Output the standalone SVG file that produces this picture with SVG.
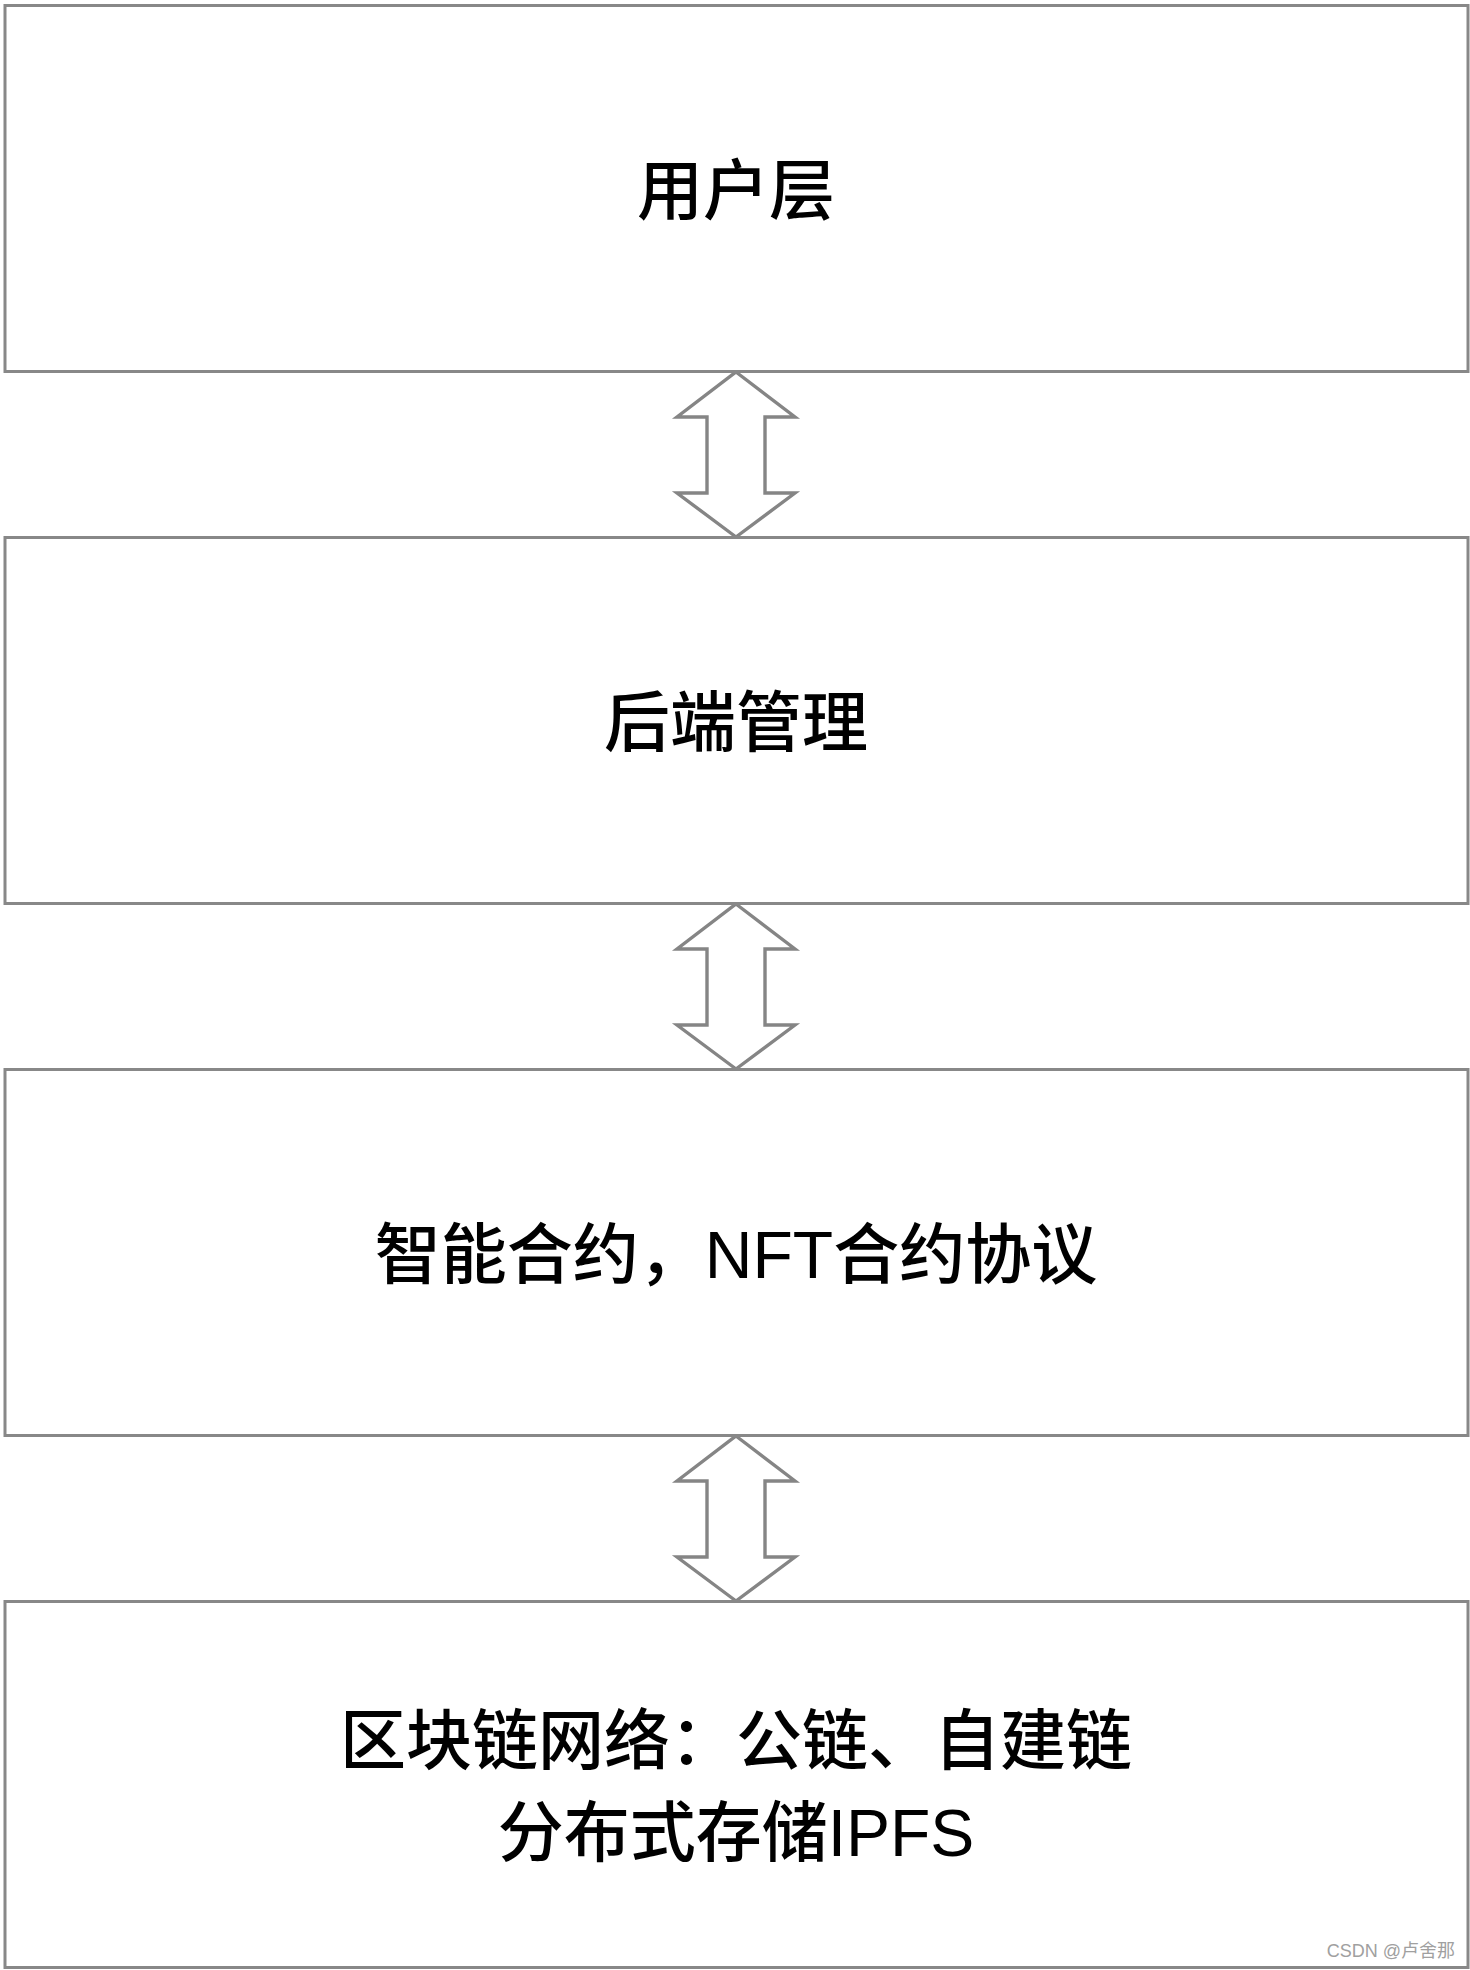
<svg xmlns="http://www.w3.org/2000/svg" width="1470" height="1970" viewBox="0 0 1470 1970">
<style>
.box{fill:#ffffff;stroke:#888888;stroke-width:3}
.arr{fill:#ffffff;stroke:#858585;stroke-width:3.4;stroke-linejoin:miter}
.lbl{font-family:"Liberation Sans","Noto Sans CJK SC",sans-serif;font-size:66px;font-weight:500;fill:#000000;text-anchor:middle}
.wm{font-family:"Liberation Sans","Noto Sans CJK SC",sans-serif;font-size:18px;fill:#a0a0a0;text-anchor:end}
</style>
<defs>
<path id="dbl" d="M0,0 L59,45 L29,45 L29,121 L59,121 L0,165 L-59,121 L-29,121 L-29,45 L-59,45 Z"/>
</defs>
<rect x="0" y="0" width="1470" height="1970" fill="#ffffff"/>
<g id="connectors">
<use href="#dbl" class="arr" x="736" y="372"/>
<use href="#dbl" class="arr" x="736" y="904"/>
<use href="#dbl" class="arr" x="736" y="1436"/>
</g>
<g id="node-user">
<rect class="box" x="5" y="5.5" width="1463" height="366"/>
<text class="lbl" x="736" y="214">用户层</text>
</g>
<g id="node-backend">
<rect class="box" x="5" y="537.5" width="1463" height="366"/>
<text class="lbl" x="736" y="746">后端管理</text>
</g>
<g id="node-contract">
<rect class="box" x="5" y="1069.5" width="1463" height="366"/>
<text class="lbl" x="736" y="1278">智能合约，NFT合约协议</text>
</g>
<g id="node-chain">
<rect class="box" x="5" y="1601.5" width="1463" height="366"/>
<text class="lbl" x="736" y="1764">区块链网络：公链、自建链</text>
<text class="lbl" x="736" y="1856">分布式存储IPFS</text>
</g>
<text class="wm" x="1455" y="1957">CSDN @卢舍那</text>
</svg>
